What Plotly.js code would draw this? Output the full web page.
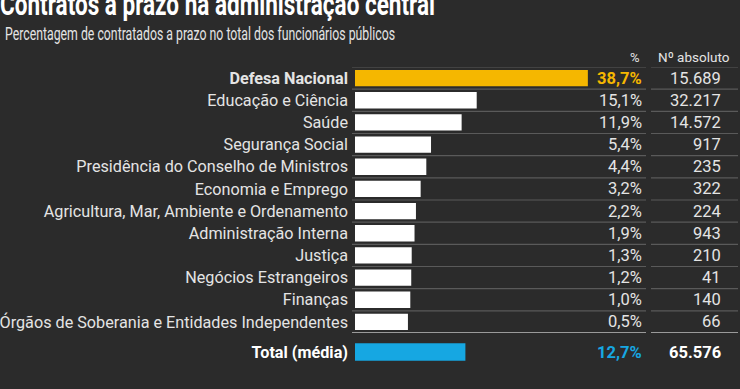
<!DOCTYPE html>
<html>
<head>
<meta charset="utf-8">
<script src="https://cdn.plot.ly/plotly-3.0.1.min.js"></script>
<style>
html,body{margin:0;padding:0;background:#2b2b2b;}
#chart{width:740px;height:389px;}
</style>
</head>
<body>
<div id="chart"></div>
<script>
// ---- data ----
const categories = [
  "Defesa Nacional",
  "Educação e Ciência",
  "Saúde",
  "Segurança Social",
  "Presidência do Conselho de Ministros",
  "Economia e Emprego",
  "Agricultura, Mar, Ambiente e Ordenamento",
  "Administração Interna",
  "Justiça",
  "Negócios Estrangeiros",
  "Finanças",
  "Órgãos de Soberania e Entidades Independentes"
];
const percentages = [38.7, 15.1, 11.9, 5.4, 4.4, 3.2, 2.2, 1.9, 1.3, 1.2, 1.0, 0.5];
const absolutes = [15689, 32217, 14572, 917, 235, 322, 224, 943, 210, 41, 140, 66];
const totalLabel = "Total (média)";
const totalPct = 12.7;
const totalAbs = 65576;
const titleText = "Contratos a prazo na administração central";
const subtitleText = "Percentagem de contratados a prazo no total dos funcionários públicos";

// ---- styling ----
const BG = "#2b2b2b";
const TXT = "#e4e4e4";
const YELLOW = "#f5b700";
const BLUE = "#16a7e2";
const STUB = 10.74; // bars start before zero (visual minimum bar length)
const W = 740, H = 389;
const px = v => v / W;
const py = v => 1 - v / H;
const FONT = 'Roboto, sans-serif';

const fmtPct = v => v.toFixed(1).replace('.', ',') + '%';
const fmtAbs = n => String(n).replace(/\B(?=(\d{3})+(?!\d))/g, '.');

const barColors = categories.map((c, i) => i === 0 ? YELLOW : "#ffffff");

const traces = [
  {
    type: 'bar', orientation: 'h',
    y: categories, x: percentages.map(v => v + STUB), base: -STUB,
    width: 0.74,
    marker: {color: barColors, line: {width: 0}},
    hoverinfo: 'skip', xaxis: 'x', yaxis: 'y'
  },
  {
    type: 'bar', orientation: 'h',
    y: [totalLabel], x: [totalPct + STUB], base: -STUB,
    width: 0.8,
    marker: {color: BLUE, line: {width: 0}},
    hoverinfo: 'skip', xaxis: 'x2', yaxis: 'y2'
  }
];

const xDom = [px(355), px(355 + 60.74 * 4.71)];
const y1Dom = [py(333), py(67)];
const y2Dom = [py(363), py(341)];
const labelFont = {family: FONT, size: 16.2, color: TXT};

const annotations = [];
// title & subtitle first (indices 0,1)
annotations.push({xref: 'paper', yref: 'paper', x: px(0), y: py(25), xanchor: 'left', yanchor: 'bottom',
  text: '<b>' + titleText + '</b>', showarrow: false,
  font: {family: FONT, size: 31, color: '#ffffff'}});
annotations.push({xref: 'paper', yref: 'paper', x: px(4), y: py(34), xanchor: 'left', yanchor: 'middle',
  text: subtitleText, showarrow: false,
  font: {family: FONT, size: 19, color: TXT}});

const COLP = px(644), COLA = px(723);
categories.forEach((c, i) => {
  annotations.push({xref: 'paper', yref: 'y', x: COLP, y: c, xanchor: 'right', yanchor: 'middle',
    text: i === 0 ? '<b>' + fmtPct(percentages[i]) + '</b>' : fmtPct(percentages[i]),
    showarrow: false, font: {family: FONT, size: 16.5, color: i === 0 ? YELLOW : TXT}});
  annotations.push({xref: 'paper', yref: 'y', x: COLA, y: c, xanchor: 'right', yanchor: 'middle',
    text: fmtAbs(absolutes[i]), showarrow: false,
    font: {family: FONT, size: 16.5, color: TXT}});
});
annotations.push({xref: 'paper', yref: 'y2', x: COLP, y: totalLabel, xanchor: 'right', yanchor: 'middle',
  text: '<b>' + fmtPct(totalPct) + '</b>', showarrow: false,
  font: {family: FONT, size: 16.5, color: BLUE}});
annotations.push({xref: 'paper', yref: 'y2', x: COLA, y: totalLabel, xanchor: 'right', yanchor: 'middle',
  text: '<b>' + fmtAbs(totalAbs) + '</b>', showarrow: false,
  font: {family: FONT, size: 16.5, color: '#ffffff'}});
// headers
annotations.push({xref: 'paper', yref: 'paper', x: px(642), y: py(57), xanchor: 'right', yanchor: 'middle',
  text: '%', showarrow: false, font: {family: FONT, size: 13, color: TXT}});
annotations.push({xref: 'paper', yref: 'paper', x: px(732), y: py(57), xanchor: 'right', yanchor: 'middle',
  text: 'Nº absoluto', showarrow: false, font: {family: FONT, size: 13.5, color: TXT}});

// separators
const shapes = [];
for (let k = 0; k <= categories.length; k++) {
  const last = k === categories.length;
  const col = last ? '#9a9a9a' : '#5a5a5a';
  const wd = last ? 2 : 1.2;
  shapes.push({type: 'line', xref: 'paper', yref: 'y', x0: px(352), x1: px(646), y0: k - 0.5, y1: k - 0.5,
    line: {color: col, width: wd}});
  shapes.push({type: 'line', xref: 'paper', yref: 'y', x0: px(651), x1: px(738), y0: k - 0.5, y1: k - 0.5,
    line: {color: col, width: wd}});
}

const layout = {
  width: W, height: H,
  paper_bgcolor: BG, plot_bgcolor: 'rgba(0,0,0,0)',
  margin: {l: 0, r: 0, t: 0, b: 0},
  showlegend: false,
  separators: ',.',
  xaxis: {domain: xDom, range: [-STUB, 50], visible: false, fixedrange: true},
  xaxis2: {domain: xDom, range: [-STUB, 50], visible: false, anchor: 'y2', fixedrange: true},
  yaxis: {domain: y1Dom, type: 'category', range: [categories.length - 0.5, -0.5],
    tickvals: categories,
    ticktext: categories.map((c, i) => i === 0 ? '<b>' + c + '</b>' : c),
    showgrid: false, zeroline: false, showline: false, ticks: '', ticklabelstandoff: 6,
    tickfont: labelFont, anchor: 'x', fixedrange: true},
  yaxis2: {domain: y2Dom, type: 'category', range: [0.5, -0.5],
    tickvals: [totalLabel], ticktext: ['<b>' + totalLabel + '</b>'],
    showgrid: false, zeroline: false, showline: false, ticks: '', ticklabelstandoff: 6,
    tickfont: {family: FONT, size: 16.2, color: '#ffffff'}, anchor: 'x2', fixedrange: true},
  shapes: shapes,
  annotations: annotations
};

// condense a text (as the original condensed typeface) to a given width, keeping its left edge
function condense(index, left, width) {
  const g = document.querySelector('#chart g.annotation[data-index="' + index + '"] text.annotation-text');
  if (!g) return;
  const r0 = g.getBoundingClientRect();
  if (r0.width <= width) return;
  g.setAttribute('textLength', width);
  g.setAttribute('lengthAdjust', 'spacingAndGlyphs');
  const r1 = g.getBoundingClientRect();
  const x = parseFloat(g.getAttribute('x') || 0);
  g.setAttribute('x', x + (left - r1.left));
}

Plotly.newPlot('chart', traces, layout, {displayModeBar: false, staticPlot: true}).then(() => {
  condense(0, 0, 435);
  condense(1, 5, 390);
});
</script>
</body>
</html>
